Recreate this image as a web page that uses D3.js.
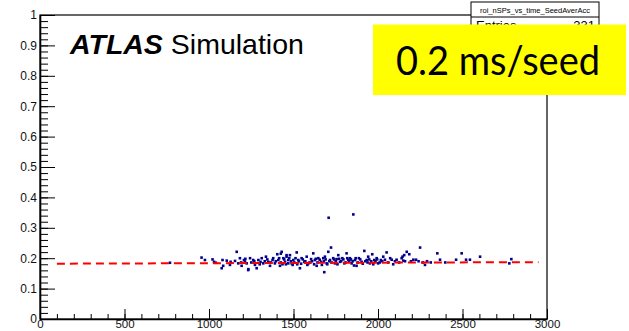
<!DOCTYPE html>
<html lang="en">
  <head>
    <meta charset="UTF-8" />
    <title>roi_nSPs_vs_time_SeedAverAcc</title>
    <style>
      body { margin: 0; background: #fff; }
      svg text { font-family: "Liberation Sans", Arial, sans-serif; }
    </style>
  </head>
  <body>
    <svg id="svg" width="629" height="331"></svg>

    <script src="https://cdn.jsdelivr.net/npm/d3@7"></script>
    <script>
      // axis ticks
      const X_TICKS = [0, 500, 1000, 1500, 2000, 2500, 3000];
      const Y_TICKS = [0, 0.1, 0.2, 0.3, 0.4, 0.5, 0.6, 0.7, 0.8, 0.9, 1];

      // flat fit (dashed red line)
      const FIT_X = [100, 2950];
      const FIT_Y = [0.182, 0.187];

      // [number of seeds, time per seed (ms)]
      const SEED_POINTS = [
        [769, 0.185], [956, 0.202], [976, 0.194], [1021, 0.196], [1030, 0.188], [1041, 0.185],
        [1075, 0.167], [1080, 0.194], [1084, 0.175], [1105, 0.192], [1124, 0.178], [1128, 0.188],
        [1154, 0.191], [1164, 0.221], [1173, 0.183], [1183, 0.2], [1193, 0.175], [1207, 0.194],
        [1213, 0.189], [1223, 0.183], [1232, 0.161], [1233, 0.164], [1243, 0.2], [1262, 0.194],
        [1272, 0.178], [1282, 0.167], [1292, 0.194], [1312, 0.2], [1321, 0.183], [1337, 0.205],
        [1351, 0.188], [1361, 0.175], [1376, 0.194], [1390, 0.183], [1404, 0.213], [1410, 0.194],
        [1420, 0.175], [1425, 0.215], [1430, 0.221], [1440, 0.2], [1450, 0.188], [1459, 0.21],
        [1469, 0.183], [1459, 0.205], [1469, 0.194], [1479, 0.21], [1489, 0.183], [1499, 0.194],
        [1519, 0.219], [1528, 0.194], [1538, 0.167], [1548, 0.2], [1564, 0.188], [1578, 0.205],
        [1588, 0.183], [1604, 0.197], [1617, 0.216], [1627, 0.194], [1637, 0.175], [1647, 0.2],
        [1663, 0.188], [1676, 0.2], [1682, 0.154], [1686, 0.205], [1696, 0.183], [1706, 0.221],
        [1716, 0.194], [1722, 0.235], [1735, 0.2], [1745, 0.183], [1755, 0.197], [1765, 0.21],
        [1775, 0.188], [1789, 0.2], [1801, 0.183], [1814, 0.216], [1824, 0.194], [1834, 0.2],
        [1844, 0.183], [1864, 0.194], [1873, 0.175], [1887, 0.2], [1903, 0.188], [1919, 0.224],
        [1933, 0.194], [1942, 0.205], [1952, 0.183], [1966, 0.213], [1978, 0.194], [1992, 0.2],
        [2001, 0.183], [2017, 0.194], [2031, 0.205], [1708, 0.333], [1854, 0.344],
        [2041, 0.195], [2051, 0.219], [2081, 0.195], [2090, 0.18], [2110, 0.195], [2140, 0.2],
        [2145, 0.205], [2150, 0.192], [2155, 0.21], [2170, 0.221], [2185, 0.213], [2209, 0.195],
        [2225, 0.195], [2249, 0.235], [2265, 0.186], [2278, 0.178], [2312, 0.186], [2351, 0.216],
        [2367, 0.195], [2398, 0.186], [2462, 0.195], [2495, 0.216], [2521, 0.195], [2544, 0.195],
        [2604, 0.205], [2777, 0.183], [2789, 0.197],
        [1190, 0.186], [1215, 0.198], [1250, 0.186], [1268, 0.19], [1300, 0.18], [1305, 0.188],
        [1330, 0.19], [1345, 0.196], [1365, 0.186], [1380, 0.2], [1395, 0.19], [1415, 0.2],
        [1425, 0.186], [1435, 0.18], [1445, 0.196], [1455, 0.18], [1475, 0.2], [1485, 0.19],
        [1495, 0.178], [1505, 0.186], [1512, 0.2], [1522, 0.18], [1532, 0.19], [1545, 0.182],
        [1555, 0.196], [1570, 0.19], [1582, 0.178], [1595, 0.186], [1610, 0.19], [1622, 0.18],
        [1632, 0.198], [1642, 0.186], [1655, 0.195], [1668, 0.178], [1680, 0.19], [1690, 0.196],
        [1700, 0.18], [1712, 0.19], [1725, 0.186], [1740, 0.196], [1750, 0.19], [1760, 0.18],
        [1770, 0.198], [1782, 0.19], [1795, 0.196], [1808, 0.186], [1818, 0.2], [1830, 0.19],
        [1840, 0.196], [1850, 0.19], [1858, 0.176], [1868, 0.2], [1880, 0.186], [1895, 0.196],
        [1910, 0.182], [1925, 0.19], [1938, 0.186], [1948, 0.196], [1960, 0.19], [1972, 0.18],
        [1985, 0.19], [1995, 0.196], [2010, 0.186], [2025, 0.19], [2060, 0.186], [2072, 0.2],
        [2100, 0.19], [2125, 0.186], [2160, 0.19], [2195, 0.19], [2240, 0.19], [2290, 0.19]
      ];

      const MARGIN = { top: 15, right: 82, bottom: 12, left: 40 };
      const WIDTH = 629 - (MARGIN.left + MARGIN.right);
      const HEIGHT = 331 - (MARGIN.top + MARGIN.bottom);

      const xScale = d3.scaleLinear().domain([0, 3000]).range([MARGIN.left, MARGIN.left + WIDTH]);
      const yScale = d3.scaleLinear().domain([0, 1]).range([MARGIN.top + HEIGHT, MARGIN.top]);

      const svg = d3.select("#svg");

      // frame (top and right)
      svg.append("rect")
        .attr("x", xScale(0)).attr("y", yScale(1))
        .attr("width", WIDTH).attr("height", HEIGHT)
        .attr("fill", "none").attr("stroke", "#000").attr("stroke-width", 1.2);

      // minor ticks
      svg.append("g")
        .attr("transform", `translate(${MARGIN.left}, 0)`)
        .call(d3.axisLeft(yScale).tickValues(d3.range(0, 1.001, 0.02)).tickSize(-8).tickSizeOuter(0).tickFormat(""))
        .call((g) => g.select(".domain").remove());
      svg.append("g")
        .attr("transform", `translate(0, ${MARGIN.top + HEIGHT})`)
        .call(d3.axisBottom(xScale).tickValues(d3.range(0, 3001, 100)).tickSize(-5).tickSizeOuter(0).tickFormat(""))
        .call((g) => g.select(".domain").remove());

      // major ticks + labels
      const leftAxis = d3.axisLeft(yScale).tickValues(Y_TICKS).tickSize(-15).tickSizeOuter(0).tickPadding(3)
        .tickFormat(d3.format("~g"));
      const bottomAxis = d3.axisBottom(xScale).tickValues(X_TICKS).tickSize(-10).tickSizeOuter(0).tickPadding(1)
        .tickFormat(d3.format("d"));

      const yg = svg.append("g").attr("transform", `translate(${MARGIN.left}, 0)`).call(leftAxis);
      const xg = svg.append("g").attr("transform", `translate(0, ${MARGIN.top + HEIGHT})`).call(bottomAxis);
      yg.selectAll("text").attr("font-size", 12).attr("fill", "#111");
      xg.selectAll("text").attr("font-size", 11.5).attr("fill", "#111");
      [yg, xg].forEach((g) => g.select(".domain").attr("stroke-width", 1.6));

      // points
      svg.append("g").selectAll("rect")
        .data(SEED_POINTS).enter().append("rect")
        .attr("x", (d) => xScale(d[0]) - 1.3)
        .attr("y", (d) => yScale(d[1]) - 1.3)
        .attr("width", 2.6).attr("height", 2.6)
        .attr("fill", "#00008c");

      // fit line
      const line = d3.line().x((d) => xScale(d[0])).y((d) => yScale(d[1]));
      svg.append("path")
        .datum(FIT_X.map((x, i) => [x, FIT_Y[i]]))
        .attr("d", line)
        .attr("fill", "none").attr("stroke", "#ff0000")
        .attr("stroke-width", 2).attr("stroke-dasharray", "8,5");

      // ATLAS label
      const atlas = svg.append("text").attr("x", 70).attr("y", 54).attr("font-size", 28.5);
      atlas.append("tspan").attr("font-weight", "bold").attr("font-style", "italic").text("ATLAS");
      atlas.append("tspan").text(" Simulation");

      // stats box
      const stats = svg.append("g");
      stats.append("rect").attr("x", 471).attr("y", 2).attr("width", 128).attr("height", 40)
        .attr("fill", "#fff").attr("stroke", "#000").attr("stroke-width", 1);
      stats.append("line").attr("x1", 471).attr("x2", 599).attr("y1", 17).attr("y2", 17)
        .attr("stroke", "#000").attr("stroke-width", 1);
      stats.append("text").attr("x", 535).attr("y", 12.5).attr("text-anchor", "middle")
        .attr("font-size", 7.5).text("roi_nSPs_vs_time_SeedAverAcc");
      stats.append("text").attr("x", 476).attr("y", 30).attr("font-size", 13).text("Entries");
      stats.append("text").attr("x", 595).attr("y", 30).attr("text-anchor", "end").attr("font-size", 13).text("331");

      // yellow annotation
      svg.append("rect").attr("x", 373).attr("y", 24.5).attr("width", 253).attr("height", 70.5).attr("fill", "#ffff00");
      svg.append("text").attr("x", 396).attr("y", 75).attr("font-size", 41)
        .attr("textLength", 204).attr("lengthAdjust", "spacingAndGlyphs")
        .style("font-family", "Lato, 'Open Sans', sans-serif")
        .text("0.2 ms/seed");
    </script>
  </body>
</html>
